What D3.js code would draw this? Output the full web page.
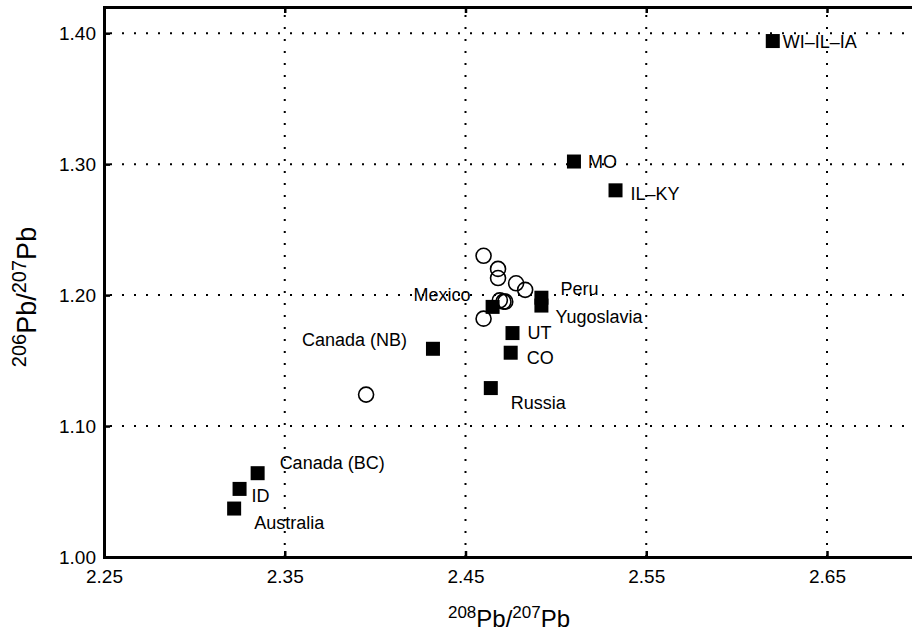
<!DOCTYPE html>
<html>
<head>
<meta charset="utf-8">
<script src="https://cdn.jsdelivr.net/npm/d3@7"></script>
<style>
  body { margin: 0; background: #fff; }
  svg { display: block; font-family: "Liberation Sans", Arial, Helvetica, sans-serif; }
</style>
</head>
<body>
<script>
// ore sources (filled squares)
var sourceNames = ['WI\u2013IL\u2013IA', 'MO', 'IL\u2013KY', 'Peru', 'Yugoslavia', 'UT', 'CO', 'Russia',
  'Mexico', 'Canada (NB)', 'Canada (BC)', 'ID', 'Australia'];
var sourceX = [2.620, 2.510, 2.533, 2.492, 2.492, 2.476, 2.475, 2.464, 2.465, 2.432, 2.335, 2.325, 2.322];
var sourceY = [1.394, 1.302, 1.280, 1.198, 1.192, 1.171, 1.156, 1.129, 1.191, 1.159, 1.064, 1.052, 1.037];

// samples (open circles)
var sampleX = [2.460, 2.468, 2.468, 2.478, 2.483, 2.469, 2.471, 2.472, 2.460, 2.395];
var sampleY = [1.230, 1.220, 1.213, 1.209, 1.204, 1.196, 1.195, 1.195, 1.182, 1.124];

var xTicks = [2.25, 2.35, 2.45, 2.55, 2.65];
var yTicks = [1.00, 1.10, 1.20, 1.30, 1.40];

// where each label sits relative to its square
var labelPos = {
  'WI\u2013IL\u2013IA': {dx: 10, dy: 1, anchor: 'start'},
  'MO': {dx: 14, dy: 0, anchor: 'start'},
  'IL\u2013KY': {dx: 15, dy: 3, anchor: 'start'},
  'Peru': {dx: 19, dy: -9, anchor: 'start'},
  'Yugoslavia': {dx: 14, dy: 11, anchor: 'start'},
  'UT': {dx: 15, dy: 0, anchor: 'start'},
  'CO': {dx: 16, dy: 5, anchor: 'start'},
  'Russia': {dx: 20, dy: 15, anchor: 'start'},
  'Mexico': {dx: -22, dy: -12, anchor: 'end'},
  'Canada (NB)': {dx: -26, dy: -9, anchor: 'end'},
  'Canada (BC)': {dx: 22, dy: -10, anchor: 'start'},
  'ID': {dx: 12, dy: 7, anchor: 'start'},
  'Australia': {dx: 20, dy: 14, anchor: 'start'}
};

var fullWidth = 912;
var fullHeight = 635;
var margin = {top: 7, left: 104, bottom: 78};
var plotBottom = fullHeight - margin.bottom;

var svg = d3.select('body').append('svg')
  .attr('width', fullWidth)
  .attr('height', fullHeight);

var x = d3.scaleLinear()
  .domain([2.25, 2.75])
  .range([margin.left, margin.left + 5 * 180.75]);

var y = d3.scaleLinear()
  .domain([1.00, 1.42])
  .range([plotBottom, margin.top]);

// dotted grid
var grid = svg.append('g').attr('class', 'grid')
  .attr('stroke', '#000')
  .attr('stroke-width', 2)
  .attr('stroke-dasharray', '2 10');

grid.selectAll('line.gx')
  .data(xTicks.slice(1))
  .enter().append('line')
    .attr('class', 'gx')
    .attr('x1', function(d) { return x(d); })
    .attr('x2', function(d) { return x(d); })
    .attr('y1', margin.top + 8)
    .attr('y2', plotBottom);

grid.selectAll('line.gy')
  .data(yTicks.slice(1))
  .enter().append('line')
    .attr('class', 'gy')
    .attr('x1', margin.left + 6)
    .attr('x2', fullWidth)
    .attr('y1', function(d) { return y(d); })
    .attr('y2', function(d) { return y(d); });

// axes
var xAxis = d3.axisBottom(x).tickValues(xTicks).tickFormat(d3.format('.2f'))
  .tickSize(-6).tickPadding(13);
var yAxis = d3.axisLeft(y).tickValues(yTicks).tickFormat(d3.format('.2f'))
  .tickSize(-6).tickPadding(8);
var topAxis = d3.axisTop(x).tickValues(xTicks).tickFormat('').tickSize(-6);

function styleAxis(g) {
  g.select('.domain').attr('stroke-width', 3);
  g.selectAll('.tick line').attr('stroke-width', 2.5);
  g.selectAll('.tick text').style('font-size', '19px').attr('fill', '#000');
}

svg.append('g')
  .attr('transform', 'translate(0,' + plotBottom + ')')
  .call(xAxis)
  .call(styleAxis);

svg.append('g')
  .attr('transform', 'translate(' + margin.left + ',0)')
  .call(yAxis)
  .call(styleAxis);

svg.append('g')
  .attr('transform', 'translate(0,' + margin.top + ')')
  .call(topAxis)
  .call(styleAxis);

// axis titles
var xTitle = svg.append('text')
  .attr('x', 509)
  .attr('y', 627)
  .attr('text-anchor', 'middle')
  .style('font-size', '24px');
xTitle.append('tspan').attr('dy', -9).style('font-size', '17px').text('208');
xTitle.append('tspan').attr('dy', 9).text('Pb/');
xTitle.append('tspan').attr('dy', -9).style('font-size', '17px').text('207');
xTitle.append('tspan').attr('dy', 9).text('Pb');

var yTitle = svg.append('text')
  .attr('transform', 'translate(36,297)rotate(-90)')
  .attr('text-anchor', 'middle')
  .style('font-size', '27px');
yTitle.append('tspan').attr('dy', -10).style('font-size', '20px').text('206');
yTitle.append('tspan').attr('dy', 10).text('Pb/');
yTitle.append('tspan').attr('dy', -10).style('font-size', '20px').text('207');
yTitle.append('tspan').attr('dy', 10).text('Pb');

// open circles
svg.append('g').selectAll('circle')
  .data(sampleX)
  .enter().append('circle')
    .attr('cx', function(d) { return x(d); })
    .attr('cy', function(d, i) { return y(sampleY[i]); })
    .attr('r', 7.5)
    .attr('fill', 'none')
    .attr('stroke', '#000')
    .attr('stroke-width', 1.6);

// filled squares
var size = 14;
svg.append('g').selectAll('rect')
  .data(sourceX)
  .enter().append('rect')
    .attr('x', function(d) { return x(d) - size / 2; })
    .attr('y', function(d, i) { return y(sourceY[i]) - size / 2; })
    .attr('width', size)
    .attr('height', size)
    .attr('fill', '#000');

svg.append('g').selectAll('text')
  .data(sourceNames)
  .enter().append('text')
    .attr('x', function(d, i) { return x(sourceX[i]) + labelPos[d].dx; })
    .attr('y', function(d, i) { return y(sourceY[i]) + labelPos[d].dy; })
    .attr('dy', '0.35em')
    .attr('text-anchor', function(d) { return labelPos[d].anchor; })
    .style('font-size', '18px')
    .text(function(d) { return d; });
</script>
</body>
</html>
